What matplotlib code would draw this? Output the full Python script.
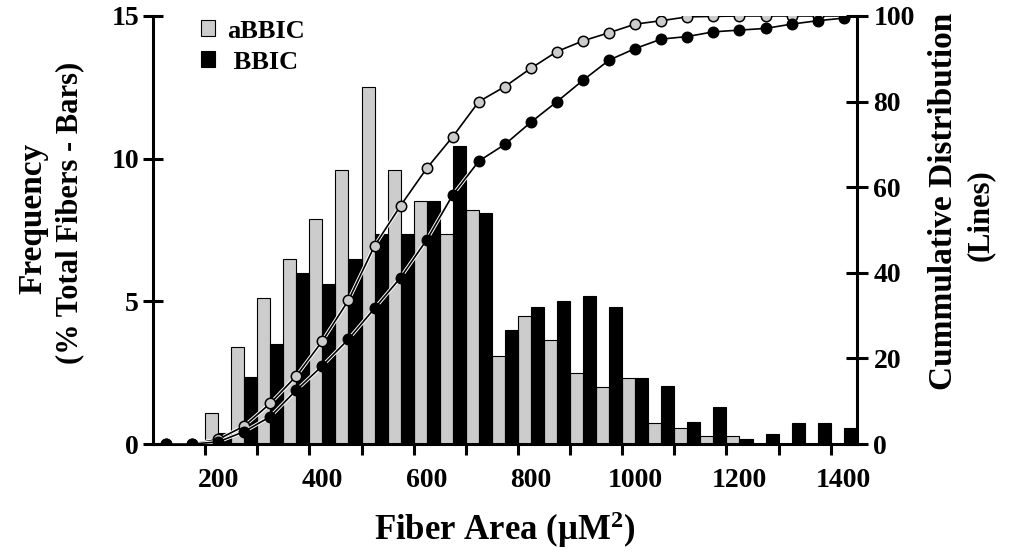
import matplotlib
matplotlib.use("Agg")
import matplotlib.pyplot as plt
import matplotlib.patheffects as pe
from matplotlib.ticker import FixedLocator
import numpy as np

# bin centres (fiber area, uM^2)
bins = [100, 150, 200, 250, 300, 350, 400, 450, 500, 550, 600, 650, 700, 750,
        800, 850, 900, 950, 1000, 1050, 1100, 1150, 1200, 1250, 1300, 1350, 1400]

# frequency (% total fibers) - bars
freq_abbic = [0, 0, 1.1, 3.4, 5.1, 6.5, 7.9, 9.6, 12.5, 9.6, 8.5, 7.35, 8.2, 3.1,
              4.5, 3.65, 2.5, 2.0, 2.3, 0.75, 0.55, 0.27, 0.27, 0, 0, 0, 0]
freq_bbic = [0, 0, 0.4, 2.35, 3.5, 6.0, 5.6, 6.5, 7.35, 7.35, 8.5, 10.45, 8.1, 4.0,
             4.8, 5.0, 5.2, 4.8, 2.3, 2.05, 0.77, 1.28, 0.18, 0.36, 0.75, 0.75, 0.55]

# cumulative distribution (%) - lines
cum_abbic = [0, 0, 1.1, 4.2, 9.5, 15.9, 24.1, 33.6, 46.3, 55.7, 64.4, 71.8, 80.0, 83.5,
             87.8, 91.7, 94.2, 96.1, 98.1, 98.9, 99.8, 99.9, 100, 100, 100, 100, 100]
cum_bbic = [0, 0, 0.5, 2.9, 6.4, 12.6, 18.3, 24.5, 31.7, 38.9, 47.7, 58.2, 66.1, 70.0,
            75.2, 80.0, 85.0, 89.7, 92.4, 94.6, 95.2, 96.3, 96.7, 97.1, 98.1, 98.9, 99.5]

plt.rcParams['font.family'] = ['Liberation Serif', 'DejaVu Serif']
plt.rcParams['font.weight'] = 'bold'
plt.rcParams['axes.labelweight'] = 'bold'
plt.rcParams['mathtext.fontset'] = 'custom'
plt.rcParams['mathtext.rm'] = 'Liberation Serif:bold'
plt.rcParams['mathtext.it'] = 'Liberation Serif:bold'
plt.rcParams['mathtext.bf'] = 'Liberation Serif:bold'

grey = '#cccccc'
x = np.array(bins)
w = 25

fig = plt.figure(figsize=(10.2, 5.59), dpi=100)
ax = fig.add_axes([0.150, 0.2057, 0.690, 0.7657])

b1 = ax.bar(x - w / 2, freq_abbic, width=w, color=grey, edgecolor='black', linewidth=0.8,
            label='aBBIC', zorder=2)
b2 = ax.bar(x + w / 2, freq_bbic, width=w, color='black', edgecolor='black', linewidth=0.8,
            label=' BBIC', zorder=2)

ax.set_xlim(75, 1425)
ax.set_ylim(0, 15)
ax.set_yticks([0, 5, 10, 15])
ax.xaxis.set_major_locator(FixedLocator([200, 400, 600, 800, 1000, 1200, 1400]))
ax.xaxis.set_minor_locator(FixedLocator(np.arange(175, 1400, 100)))
ax.tick_params(axis='x', which='major', length=0, pad=17, labelsize=20)
ax.tick_params(axis='x', which='minor', direction='out', length=8, width=2.2)
ax.tick_params(axis='y', direction='inout', length=14, width=2.2, labelsize=20, pad=3)
for s in ['left', 'bottom']:
    ax.spines[s].set_linewidth(2.2)
ax.spines['top'].set_visible(False)
ax.spines['right'].set_visible(False)

ax2 = ax.twinx()
halo = [pe.Stroke(linewidth=2.6, foreground='white'), pe.Normal()]
# lines (with a thin white halo where they cross the bars), then markers
ax2.plot(x, cum_abbic, '-', color='black', lw=1.2, zorder=3, path_effects=halo)
ax2.plot(x, cum_abbic, 'o', markersize=7.5, markerfacecolor=grey,
         markeredgecolor='black', markeredgewidth=1.1, zorder=3)
ax2.plot(x, cum_bbic, '-', color='black', lw=1.2, zorder=4, path_effects=halo)
ax2.plot(x, cum_bbic, 'o', markersize=7.5, markerfacecolor='black',
         markeredgecolor='black', markeredgewidth=1.1, zorder=4)
ax2.set_ylim(0, 100)
ax2.set_yticks([0, 20, 40, 60, 80, 100])
ax2.tick_params(axis='y', direction='inout', length=16, width=2.2, labelsize=20, pad=4)
ax2.spines['right'].set_linewidth(2.2)
ax2.spines['top'].set_visible(False)
ax2.spines['left'].set_visible(False)
ax2.spines['bottom'].set_visible(False)
ax2.patch.set_visible(False)

ax.set_xlabel('Fiber Area (μM$^{2}$)', fontsize=25, fontweight='bold', labelpad=12)

fig.text(0.032, 0.61, 'Frequency', rotation=90, fontsize=24, ha='center', va='center')
fig.text(0.068, 0.62, '(% Total Fibers - Bars)', rotation=90, fontsize=22,
         ha='center', va='center')
fig.text(0.925, 0.64, 'Cummulative Distribution', rotation=90, fontsize=24,
         ha='center', va='center')
fig.text(0.961, 0.615, '(Lines)', rotation=90, fontsize=22, ha='center', va='center')

leg = ax.legend(handles=[b1, b2], loc='upper left', bbox_to_anchor=(0.034, 1.047),
                frameon=False, fontsize=19, handlelength=0.55, handleheight=0.55,
                handletextpad=0.45, labelspacing=0.3)

fig.savefig('out.png', dpi=100)
